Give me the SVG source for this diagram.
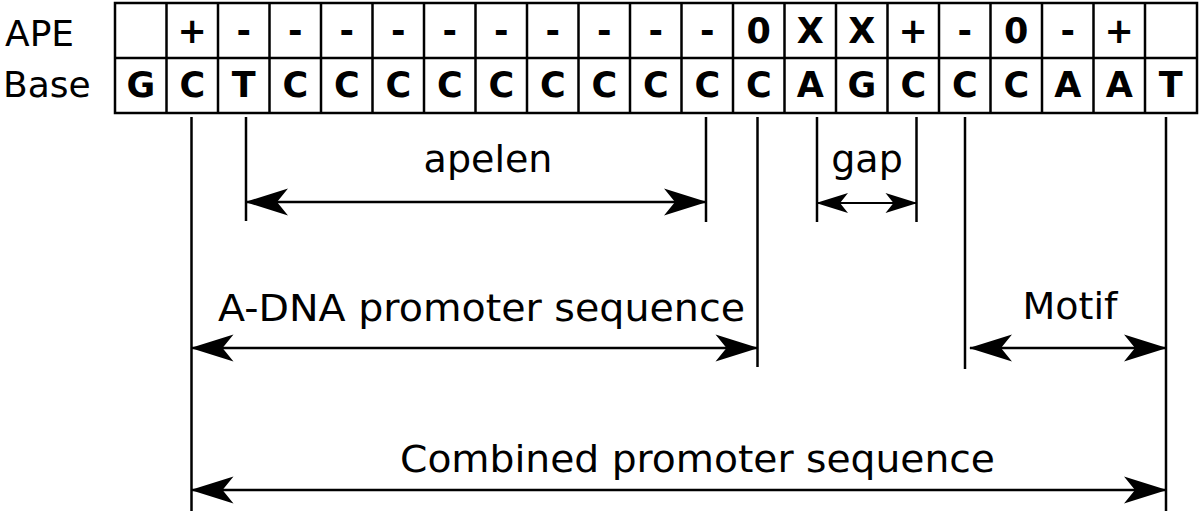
<svg xmlns="http://www.w3.org/2000/svg" width="1200" height="517" viewBox="0 0 1200 517">
<style>
.lbl{font-family:"DejaVu Sans",sans-serif;font-size:38px;fill:#000}
.side{font-family:"DejaVu Sans",sans-serif;font-size:36px;fill:#000}
.cell{font-family:"DejaVu Sans",sans-serif;font-weight:bold;font-size:35px;fill:#000;text-anchor:middle}
.grid{fill:none;stroke:#000;stroke-width:2.5}
.ext{stroke:#000;stroke-width:2.5;fill:none}
.dim{stroke:#000;stroke-width:2.5;fill:none;marker-start:url(#ah);marker-end:url(#ah)}
.dims{stroke:#000;stroke-width:2;fill:none;marker-start:url(#ahs);marker-end:url(#ahs)}
</style>
<defs>
<marker id="ah" viewBox="-45 -15 47 30" refX="0" refY="0" markerWidth="47" markerHeight="30" markerUnits="userSpaceOnUse" orient="auto-start-reverse">
<path d="M1,0 L-42,-13.5 L-31,0 L-42,13.5 Z" fill="#000"/>
</marker>
<marker id="ahs" viewBox="-34 -12 36 24" refX="0" refY="0" markerWidth="36" markerHeight="24" markerUnits="userSpaceOnUse" orient="auto-start-reverse">
<path d="M1,0 L-31,-10 L-23,0 L-31,10 Z" fill="#000"/>
</marker>
</defs>
<rect width="1200" height="517" fill="#fff"/>
<g id="row-labels">
<text class="side" x="5" y="46">APE</text>
<text class="side" x="3" y="97">Base</text>
</g>
<g id="table">
<rect class="grid" x="115" y="3" width="1082" height="110"/>
<line class="grid" x1="115" y1="58" x2="1197" y2="58"/>
<path class="grid" d="M166.5,3V113 M218,3V113 M269.5,3V113 M321,3V113 M372.5,3V113 M424,3V113 M475.5,3V113 M527,3V113 M578.5,3V113 M630,3V113 M681.5,3V113 M733,3V113 M784.5,3V113 M836,3V113 M887.5,3V113 M939,3V113 M990.5,3V113 M1042,3V113 M1093.5,3V113 M1145,3V113"/>
<g id="ape-row">
<text class="cell" x="192.25" y="43">+</text>
<text class="cell" x="243.75" y="43">-</text>
<text class="cell" x="295.25" y="43">-</text>
<text class="cell" x="346.75" y="43">-</text>
<text class="cell" x="398.25" y="43">-</text>
<text class="cell" x="449.75" y="43">-</text>
<text class="cell" x="501.25" y="43">-</text>
<text class="cell" x="552.75" y="43">-</text>
<text class="cell" x="604.25" y="43">-</text>
<text class="cell" x="655.75" y="43">-</text>
<text class="cell" x="707.25" y="43">-</text>
<text class="cell" x="758.75" y="43">0</text>
<text class="cell" x="810.25" y="43">X</text>
<text class="cell" x="861.75" y="43">X</text>
<text class="cell" x="913.25" y="43">+</text>
<text class="cell" x="964.75" y="43">-</text>
<text class="cell" x="1016.25" y="43">0</text>
<text class="cell" x="1067.75" y="43">-</text>
<text class="cell" x="1119.25" y="43">+</text>
</g>
<g id="base-row">
<text class="cell" x="140.75" y="97">G</text>
<text class="cell" x="192.25" y="97">C</text>
<text class="cell" x="243.75" y="97">T</text>
<text class="cell" x="295.25" y="97">C</text>
<text class="cell" x="346.75" y="97">C</text>
<text class="cell" x="398.25" y="97">C</text>
<text class="cell" x="449.75" y="97">C</text>
<text class="cell" x="501.25" y="97">C</text>
<text class="cell" x="552.75" y="97">C</text>
<text class="cell" x="604.25" y="97">C</text>
<text class="cell" x="655.75" y="97">C</text>
<text class="cell" x="707.25" y="97">C</text>
<text class="cell" x="758.75" y="97">C</text>
<text class="cell" x="810.25" y="97">A</text>
<text class="cell" x="861.75" y="97">G</text>
<text class="cell" x="913.25" y="97">C</text>
<text class="cell" x="964.75" y="97">C</text>
<text class="cell" x="1016.25" y="97">C</text>
<text class="cell" x="1067.75" y="97">A</text>
<text class="cell" x="1119.25" y="97">A</text>
<text class="cell" x="1170.75" y="97">T</text>
</g>
</g>
<g id="connectors">
<line class="ext" x1="191.5" y1="117" x2="191.5" y2="511"/>
<line class="ext" x1="246" y1="117" x2="246" y2="221"/>
<line class="ext" x1="706" y1="117" x2="706" y2="222"/>
<line class="ext" x1="757.5" y1="117" x2="757.5" y2="367"/>
<line class="ext" x1="817" y1="117" x2="817" y2="222"/>
<line class="ext" x1="916.5" y1="117" x2="916.5" y2="222"/>
<line class="ext" x1="965" y1="117" x2="965" y2="369"/>
<line class="ext" x1="1166" y1="117" x2="1166" y2="511"/>
<line class="dim" x1="246" y1="202" x2="706" y2="202"/>
<line class="dims" x1="817" y1="203" x2="916.5" y2="203"/>
<line class="dim" x1="191.5" y1="348" x2="757.5" y2="348"/>
<line class="dim" x1="970" y1="348" x2="1166" y2="348"/>
<line class="dim" x1="191.5" y1="490" x2="1166" y2="490"/>
</g>
<g id="label-apelen"><text class="lbl" x="488" y="172" text-anchor="middle">apelen</text></g>
<g id="label-gap"><text class="lbl" x="867" y="172" text-anchor="middle">gap</text></g>
<g id="label-adna"><text class="lbl" x="218" y="321" textLength="527" lengthAdjust="spacingAndGlyphs">A-DNA promoter sequence</text></g>
<g id="label-motif"><text class="lbl" x="1070" y="319" text-anchor="middle">Motif</text></g>
<g id="label-combined"><text class="lbl" x="400" y="472" textLength="595" lengthAdjust="spacingAndGlyphs">Combined promoter sequence</text></g>
</svg>
